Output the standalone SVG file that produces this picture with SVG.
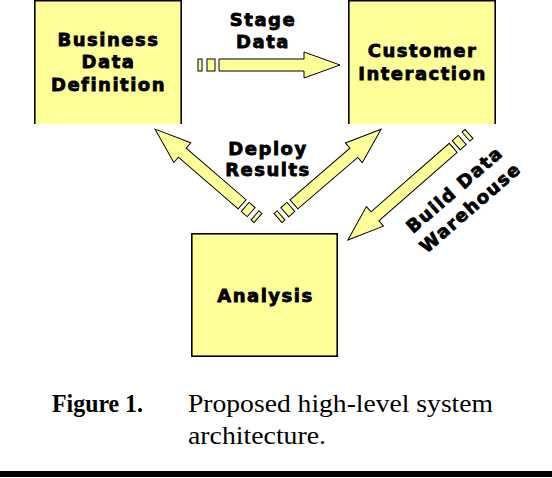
<svg xmlns="http://www.w3.org/2000/svg" width="552" height="478" viewBox="0 0 552 478">
<style>
.box{fill:#FFFF99;stroke:none}
.edge{fill:none;stroke:#000;stroke-width:1.6}
.arr{fill:#FFFF99;stroke:#000;stroke-width:1}
.lbl{font-family:"DejaVu Sans",sans-serif;font-weight:bold;font-size:18px;fill:#000;stroke:#000;stroke-width:0.8;text-anchor:middle;letter-spacing:1.5px}
.cap{font-family:"Liberation Serif","Times New Roman",serif;font-size:26px;fill:#000}
</style>
<rect width="552" height="478" fill="#fff"/>
<g id="business-data-definition">
<rect class="box" x="34" y="0" width="148" height="124"/>
<path class="edge" d="M34.8,124 V0.8 H181.2 V124"/>
<text class="lbl" x="108.5" y="45.7">Business</text>
<text class="lbl" x="108.5" y="68.3">Data</text>
<text class="lbl" x="108.5" y="90.7">Definition</text>
</g>
<g id="customer-interaction">
<rect class="box" x="348" y="0" width="148" height="124"/>
<path class="edge" d="M348.8,124 V0.8 H495.2 V124"/>
<text class="lbl" x="422.5" y="57.3">Customer</text>
<text class="lbl" x="422.5" y="80">Interaction</text>
</g>
<g id="analysis">
<rect class="box" x="191" y="233" width="147" height="124"/>
<rect class="edge" x="191.8" y="233.8" width="145.4" height="122.4"/>
<text class="lbl" x="265.5" y="301.7">Analysis</text>
</g>
<g id="connectors">
<g id="stage-data" transform="translate(198,65)">
<rect class="arr" x="0" y="-6" width="4" height="12"/>
<rect class="arr" x="9" y="-6" width="8" height="12"/>
<polygon class="arr" points="21,-6 106,-6 106,-13 142,0 106,13 106,6 21,6"/>
</g>
<g id="deploy-left" transform="translate(258,218) rotate(-139.2)">
<rect class="arr" x="0" y="-6" width="4" height="12"/>
<rect class="arr" x="9" y="-6" width="8" height="12"/>
<polygon class="arr" points="21,-6 100,-6 100,-13 136,0 100,13 100,6 21,6"/>
</g>
<g id="deploy-right" transform="translate(278,218) rotate(-40.7)">
<rect class="arr" x="0" y="-6" width="4" height="12"/>
<rect class="arr" x="9" y="-6" width="8" height="12"/>
<polygon class="arr" points="21,-6 100,-6 100,-13 136,0 100,13 100,6 21,6"/>
</g>
<g id="build-dw" transform="translate(469,134) rotate(138.8)">
<rect class="arr" x="0" y="-6" width="4" height="12"/>
<rect class="arr" x="9" y="-6" width="8" height="12"/>
<polygon class="arr" points="21,-6 125,-6 125,-13 161,0 125,13 125,6 21,6"/>
</g>
<text class="lbl" x="263" y="26">Stage</text>
<text class="lbl" x="263" y="48.3">Data</text>
<text class="lbl" x="268" y="155">Deploy</text>
<text class="lbl" x="268" y="175.5">Results</text>
<g transform="translate(462,198) rotate(-41)">
<text class="lbl" x="0" y="-5">Build Data</text>
<text class="lbl" x="0" y="19">Warehouse</text>
</g>
</g>
<g id="caption">
<text class="cap" x="52" y="412" font-weight="bold" textLength="91" lengthAdjust="spacingAndGlyphs">Figure 1.</text>
<text class="cap" x="188" y="412" textLength="305" lengthAdjust="spacingAndGlyphs">Proposed high-level system</text>
<text class="cap" x="188" y="444" textLength="138" lengthAdjust="spacingAndGlyphs">architecture.</text>
</g>
<rect x="0" y="471" width="552" height="6" fill="#000"/>
</svg>
